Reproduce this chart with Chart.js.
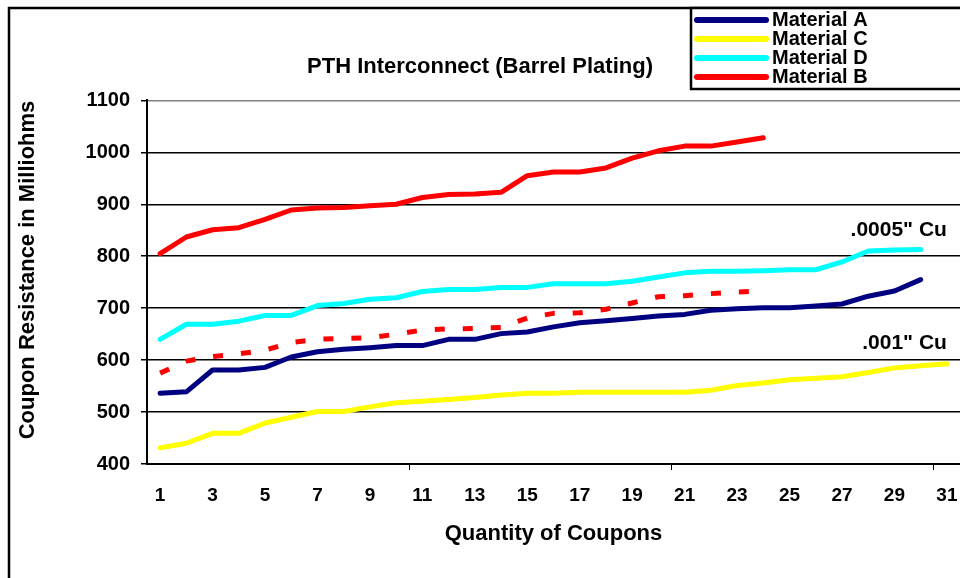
<!DOCTYPE html>
<html>
<head>
<meta charset="utf-8">
<script src="https://cdn.jsdelivr.net/npm/chart.js@4"></script>
<style>
body { margin: 0; background: #fff; }
</style>
</head>
<body>
<canvas id="PTH" width="960" height="578"></canvas>
<script>
var Coupons = ["1","2","3","4","5","6","7","8","9","10","11","12","13","14","15","16",
	"17","18","19","20","21","22","23","24","25","26","27","28","29","30","31"];
var MaterialA = [536, 539, 581, 581, 586, 606, 616, 621, 624, 628, 628, 640, 640, 651, 654,
	664, 672, 676, 680, 685, 688, 696, 699, 701, 701, 704, 708, 723, 733, 755];
var MaterialC = [431, 440, 459, 459, 479, 490, 501, 501, 510, 518, 521, 524, 528, 533, 536,
	536, 538, 538, 538, 538, 538, 542, 551, 556, 562, 565, 568, 576, 585, 589, 593];
var MaterialD = [640, 669, 669, 675, 686, 686, 705, 709, 717, 720, 732, 736, 736, 740, 740,
	747, 747, 747, 752, 760, 768, 771, 771, 772, 774, 774, 789, 810, 812, 813];
var MaterialB = [805, 837, 851, 855, 871, 889, 893, 894, 897, 900, 913, 919, 920, 923, 955,
	962, 962, 970, 989, 1003, 1012, 1012, 1020, 1028];
var MaterialBDash = [575, 598, 607, 612, 619, 634, 640, 642, 643, 650, 658, 660, 661, 663, 681,
	690, 691, 698, 710, 722, 724, 728, 731, 733];
var YTicks = [400, 500, 600, 700, 800, 900, 1000, 1100];
var Notes = [
	{ text: '.0005" Cu', at: "31", value: 850 },
	{ text: '.001" Cu', at: "31", value: 633 }
];

var FONT = "'Liberation Sans', Arial, sans-serif";

function line(label, data, color, dash) {
	return {
		label: label,
		data: data,
		borderColor: color,
		backgroundColor: color,
		borderWidth: 5,
		borderDash: dash || [],
		borderCapStyle: dash ? "butt" : "round",
		borderJoinStyle: "round",
		pointRadius: 0,
		pointHoverRadius: 0,
		fill: false,
		tension: 0
	};
}

// frame, legend box and the two copper notes
var extras = {
	id: "extras",
	afterDatasetsDraw: function(chart) {
		var ctx = chart.ctx;
		var x = chart.scales.x, y = chart.scales.y;
		ctx.save();
		ctx.fillStyle = "#000";
		ctx.font = "bold 21px " + FONT;
		ctx.textAlign = "right";
		ctx.textBaseline = "middle";
		Notes.forEach(function(n) {
			ctx.fillText(n.text, x.getPixelForValue(Coupons.indexOf(n.at)), y.getPixelForValue(n.value));
		});
		ctx.restore();
	},
	afterDraw: function(chart) {
		var ctx = chart.ctx;
		ctx.save();
		ctx.strokeStyle = "#000";
		ctx.lineWidth = 2.5;
		ctx.beginPath();
		ctx.moveTo(9, 578);
		ctx.lineTo(9, 8);
		ctx.lineTo(960, 8);
		ctx.stroke();

		// legend
		ctx.fillStyle = "#fff";
		ctx.fillRect(691, 8, 270, 81);
		ctx.strokeRect(691, 8, 275, 81);
		ctx.font = "bold 20px " + FONT;
		ctx.textAlign = "left";
		ctx.textBaseline = "middle";
		chart.data.datasets.forEach(function(ds, i) {
			if (!ds.label) return;
			var yy = 20 + i * 19;
			ctx.strokeStyle = ds.borderColor;
			ctx.lineWidth = 6;
			ctx.lineCap = "round";
			ctx.beginPath();
			ctx.moveTo(697, yy);
			ctx.lineTo(766, yy);
			ctx.stroke();
			ctx.fillStyle = "#000";
			ctx.fillText(ds.label, 772, yy);
		});
		ctx.restore();
	}
};

var PTH = document.getElementById("PTH").getContext("2d");
var PTHChart = new Chart(PTH, {
	type: "line",
	data: {
		labels: Coupons,
		datasets: [
			line("Material A", MaterialA, "#000080"),
			line("Material C", MaterialC, "#FFFF00"),
			line("Material D", MaterialD, "#00FFFF"),
			line("Material B", MaterialB, "#FF0000"),
			line("", MaterialBDash, "#FF0000", [10, 18])
		]
	},
	options: {
		responsive: false,
		animation: false,
		layout: { padding: 0 },
		plugins: {
			legend: { display: false },
			tooltip: { enabled: false },
			title: {
				display: true,
				text: "PTH Interconnect (Barrel Plating)",
				color: "#000",
				font: { family: FONT, size: 22, weight: "bold" },
				padding: { top: 54, bottom: 20 }
			}
		},
		scales: {
			x: {
				offset: true,
				afterFit: function(s) { s.height = 114; s.paddingLeft = 0; s.paddingRight = 0; },
				border: { color: "#000", width: 2 },
				grid: {
					offset: true,
					drawOnChartArea: false,
					tickLength: 6,
					color: function(c) { return c.index > 0 && c.index % 10 === 0 ? "#000" : "rgba(0,0,0,0)"; }
				},
				ticks: {
					autoSkip: false,
					maxRotation: 0,
					padding: 14,
					color: "#000",
					font: { family: FONT, size: 19, weight: "bold" },
					callback: function(v, i) { return i % 2 === 0 ? Coupons[i] : ""; }
				},
				title: {
					display: true,
					text: "Quantity of Coupons",
					color: "#000",
					font: { family: FONT, size: 22, weight: "bold" },
					padding: { top: 0, bottom: 31 }
				}
			},
			y: {
				min: YTicks[0],
				max: YTicks[YTicks.length - 1],
				afterFit: function(s) { s.width = 147; },
				afterBuildTicks: function(s) { s.ticks = YTicks.map(function(v) { return { value: v }; }); },
				border: { color: "#000", width: 2 },
				grid: {
					color: function(c) { return c.tick && c.tick.value === 1100 ? "#808080" : "#000"; },
					tickColor: "#000",
					lineWidth: 1.5,
					tickLength: 6
				},
				ticks: {
					padding: 11,
					color: "#000",
					font: { family: FONT, size: 20, weight: "bold" },
					callback: function(v) { return String(v); }
				},
				title: {
					display: true,
					text: "    Coupon Resistance in Milliohms",
					color: "#000",
					font: { family: FONT, size: 22, weight: "bold" },
					padding: { top: 15, bottom: 0 }
				}
			}
		}
	},
	plugins: [extras]
});
</script>
</body>
</html>
